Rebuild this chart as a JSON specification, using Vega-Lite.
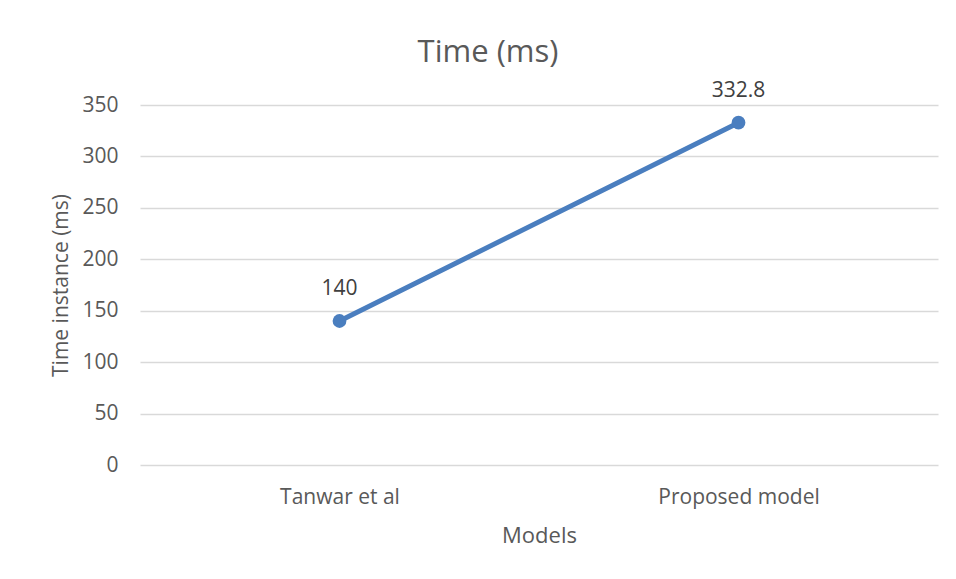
{
  "$schema": "https://vega.github.io/schema/vega-lite/v6.json",
  "autosize": {"type": "none"},
  "width": 798,
  "height": 360,
  "padding": {"left": 140, "top": 105, "right": 18, "bottom": 114},
  "background": "white",
  "config": {
    "font": "Open Sans",
    "view": {"stroke": null}
  },
  "title": {
    "text": "Time (ms)",
    "fontSize": 31,
    "fontWeight": "normal",
    "color": "#595959",
    "font": "Open Sans",
    "anchor": "middle",
    "dx": -51,
    "offset": 11
  },
  "data": {
    "values": [
      {"model": "Tanwar et al", "time": 140, "label": "140"},
      {"model": "Proposed model", "time": 332.8, "label": "332.8"}
    ]
  },
  "encoding": {
    "x": {
      "field": "model",
      "type": "nominal",
      "sort": null,
      "scale": {"type": "point", "padding": 0.5},
      "axis": {
        "title": "Models",
        "labelAngle": 0,
        "domain": false,
        "ticks": false,
        "labelPadding": 21,
        "labelFontSize": 21,
        "labelColor": "#595959",
        "titleFontSize": 22,
        "titleFontWeight": "normal",
        "titleColor": "#595959",
        "titlePadding": 18
      }
    },
    "y": {
      "field": "time",
      "type": "quantitative",
      "scale": {"domain": [0, 350], "nice": false},
      "axis": {
        "title": "Time instance (ms)",
        "values": [0, 50, 100, 150, 200, 250, 300, 350],
        "domain": false,
        "ticks": false,
        "grid": true,
        "gridColor": "#d9d9d9",
        "gridWidth": 1.3,
        "labelPadding": 22,
        "labelFontSize": 21,
        "labelColor": "#595959",
        "titleFontSize": 21,
        "titleFontWeight": "normal",
        "titleColor": "#595959",
        "titlePadding": 10
      }
    }
  },
  "layer": [
    {
      "mark": {"type": "line", "color": "#4a7ebf", "strokeWidth": 5, "strokeCap": "round"}
    },
    {
      "mark": {"type": "point", "filled": true, "color": "#4a7ebf", "size": 190, "opacity": 1}
    },
    {
      "mark": {"type": "text", "dy": -32, "fontSize": 21, "color": "#404040", "font": "Open Sans"},
      "encoding": {"text": {"field": "label"}}
    }
  ]
}
